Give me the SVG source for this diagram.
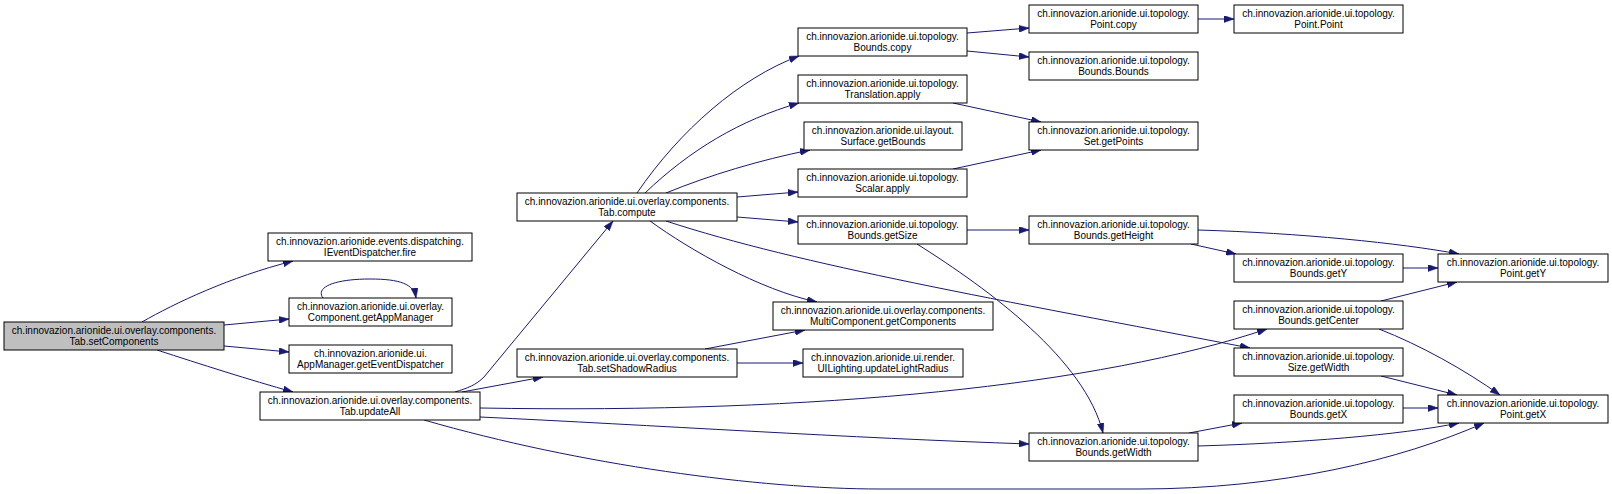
<svg xmlns="http://www.w3.org/2000/svg" width="1612" height="494" viewBox="0 0 1612 494">
<style>
.n rect{fill:#ffffff;stroke:#000000;stroke-width:1}
.n.root rect{fill:#bfbfbf;stroke:#000000}
.n text{font-family:"Liberation Sans",Arial,sans-serif;font-size:10px;fill:#000000;text-anchor:middle}
.e path{fill:none;stroke:#191970;stroke-width:1;marker-end:url(#arr)}
</style>
<defs>
<marker id="arr" markerUnits="userSpaceOnUse" markerWidth="10" markerHeight="7" refX="10" refY="3.5" orient="auto">
<path d="M0,0 L10,3.5 L0,7 Z" fill="#191970" stroke="#191970" stroke-width="0.5"/>
</marker>
</defs>
<rect width="1612" height="494" fill="#ffffff"/>
<g id="edges" class="e">
<path d="M 142,322 C 175,303 230,277 293,261"/>
<path d="M 224,325 L 289,319"/>
<path d="M 323,298 C 315,287 335,279 370,279 C 400,279 414,284 416,298"/>
<path d="M 224,346 L 289,352"/>
<path d="M 157,350 C 200,364 250,380 293,392"/>
<path d="M 455,392 C 468,388 476,385 484,377 L 613,221"/>
<path d="M 462,392 L 543,377"/>
<path d="M 480,408 C 820,414 1100,385 1267,329"/>
<path d="M 480,417 C 650,425 850,438 1029,444"/>
<path d="M 424,420 C 580,465 760,489 880,489 L 1140,489 C 1280,489 1400,460 1484,423"/>
<path d="M 637,193 C 680,130 740,78 799,56"/>
<path d="M 645,193 C 690,150 740,120 799,103"/>
<path d="M 666,193 C 710,175 760,160 810,150"/>
<path d="M 737,197 L 798,192"/>
<path d="M 737,217 L 798,222"/>
<path d="M 650,221 C 690,250 760,290 817,302"/>
<path d="M 666,221 C 800,265 1000,300 1250,348"/>
<path d="M 917,244 C 990,290 1085,360 1103,433"/>
<path d="M 967,230 L 1029,230"/>
<path d="M 967,33 L 1029,28"/>
<path d="M 967,51 L 1029,57"/>
<path d="M 953,103 L 1041,122"/>
<path d="M 953,169 L 1041,150"/>
<path d="M 705,349 L 805,330"/>
<path d="M 737,363 L 803,363"/>
<path d="M 1198,19 L 1234,19"/>
<path d="M 1198,230 C 1300,233 1400,243 1459,254"/>
<path d="M 1191,244 L 1236,254"/>
<path d="M 1403,268 L 1438,268"/>
<path d="M 1381,301 L 1457,282"/>
<path d="M 1379,329 C 1420,345 1465,370 1500,395"/>
<path d="M 1381,376 L 1457,395"/>
<path d="M 1403,408 L 1438,408"/>
<path d="M 1189,433 L 1242,423"/>
<path d="M 1198,446 C 1300,443 1400,435 1459,423"/>
</g>
<g id="setComponents" class="n root"><rect x="4" y="322" width="220" height="28"/><text x="114" y="334">ch.innovazion.arionide.ui.overlay.components.</text><text x="114" y="344.5">Tab.setComponents</text></g>
<g id="fire" class="n"><rect x="268" y="233" width="204" height="28"/><text x="370" y="245">ch.innovazion.arionide.events.dispatching.</text><text x="370" y="255.5">IEventDispatcher.fire</text></g>
<g id="getAppManager" class="n"><rect x="289" y="298" width="163" height="28"/><text x="370.5" y="310">ch.innovazion.arionide.ui.overlay.</text><text x="370.5" y="320.5">Component.getAppManager</text></g>
<g id="getEventDispatcher" class="n"><rect x="289" y="345" width="163" height="28"/><text x="370.5" y="357">ch.innovazion.arionide.ui.</text><text x="370.5" y="367.5">AppManager.getEventDispatcher</text></g>
<g id="updateAll" class="n"><rect x="260" y="392" width="220" height="28"/><text x="370" y="404">ch.innovazion.arionide.ui.overlay.components.</text><text x="370" y="414.5">Tab.updateAll</text></g>
<g id="compute" class="n"><rect x="517" y="193" width="220" height="28"/><text x="627" y="205">ch.innovazion.arionide.ui.overlay.components.</text><text x="627" y="215.5">Tab.compute</text></g>
<g id="setShadowRadius" class="n"><rect x="517" y="349" width="220" height="28"/><text x="627" y="361">ch.innovazion.arionide.ui.overlay.components.</text><text x="627" y="371.5">Tab.setShadowRadius</text></g>
<g id="boundsCopy" class="n"><rect x="798" y="28" width="169" height="28"/><text x="882.5" y="40">ch.innovazion.arionide.ui.topology.</text><text x="882.5" y="50.5">Bounds.copy</text></g>
<g id="translationApply" class="n"><rect x="798" y="75" width="169" height="28"/><text x="882.5" y="87">ch.innovazion.arionide.ui.topology.</text><text x="882.5" y="97.5">Translation.apply</text></g>
<g id="surfaceGetBounds" class="n"><rect x="804" y="122" width="158" height="28"/><text x="883" y="134">ch.innovazion.arionide.ui.layout.</text><text x="883" y="144.5">Surface.getBounds</text></g>
<g id="scalarApply" class="n"><rect x="798" y="169" width="169" height="28"/><text x="882.5" y="181">ch.innovazion.arionide.ui.topology.</text><text x="882.5" y="191.5">Scalar.apply</text></g>
<g id="boundsGetSize" class="n"><rect x="798" y="216" width="169" height="28"/><text x="882.5" y="228">ch.innovazion.arionide.ui.topology.</text><text x="882.5" y="238.5">Bounds.getSize</text></g>
<g id="multiGetComponents" class="n"><rect x="773" y="302" width="220" height="28"/><text x="883" y="314">ch.innovazion.arionide.ui.overlay.components.</text><text x="883" y="324.5">MultiComponent.getComponents</text></g>
<g id="updateLightRadius" class="n"><rect x="803" y="349" width="160" height="28"/><text x="883" y="361">ch.innovazion.arionide.ui.render.</text><text x="883" y="371.5">UILighting.updateLightRadius</text></g>
<g id="pointCopy" class="n"><rect x="1029" y="5" width="169" height="28"/><text x="1113.5" y="17">ch.innovazion.arionide.ui.topology.</text><text x="1113.5" y="27.5">Point.copy</text></g>
<g id="pointPoint" class="n"><rect x="1234" y="5" width="169" height="28"/><text x="1318.5" y="17">ch.innovazion.arionide.ui.topology.</text><text x="1318.5" y="27.5">Point.Point</text></g>
<g id="boundsBounds" class="n"><rect x="1029" y="52" width="169" height="28"/><text x="1113.5" y="64">ch.innovazion.arionide.ui.topology.</text><text x="1113.5" y="74.5">Bounds.Bounds</text></g>
<g id="setGetPoints" class="n"><rect x="1029" y="122" width="169" height="28"/><text x="1113.5" y="134">ch.innovazion.arionide.ui.topology.</text><text x="1113.5" y="144.5">Set.getPoints</text></g>
<g id="boundsGetHeight" class="n"><rect x="1029" y="216" width="169" height="28"/><text x="1113.5" y="228">ch.innovazion.arionide.ui.topology.</text><text x="1113.5" y="238.5">Bounds.getHeight</text></g>
<g id="boundsGetWidth" class="n"><rect x="1029" y="433" width="169" height="28"/><text x="1113.5" y="445">ch.innovazion.arionide.ui.topology.</text><text x="1113.5" y="455.5">Bounds.getWidth</text></g>
<g id="boundsGetY" class="n"><rect x="1234" y="254" width="169" height="28"/><text x="1318.5" y="266">ch.innovazion.arionide.ui.topology.</text><text x="1318.5" y="276.5">Bounds.getY</text></g>
<g id="boundsGetCenter" class="n"><rect x="1234" y="301" width="169" height="28"/><text x="1318.5" y="313">ch.innovazion.arionide.ui.topology.</text><text x="1318.5" y="323.5">Bounds.getCenter</text></g>
<g id="sizeGetWidth" class="n"><rect x="1234" y="348" width="169" height="28"/><text x="1318.5" y="360">ch.innovazion.arionide.ui.topology.</text><text x="1318.5" y="370.5">Size.getWidth</text></g>
<g id="boundsGetX" class="n"><rect x="1234" y="395" width="169" height="28"/><text x="1318.5" y="407">ch.innovazion.arionide.ui.topology.</text><text x="1318.5" y="417.5">Bounds.getX</text></g>
<g id="pointGetY" class="n"><rect x="1438" y="254" width="170" height="28"/><text x="1523" y="266">ch.innovazion.arionide.ui.topology.</text><text x="1523" y="276.5">Point.getY</text></g>
<g id="pointGetX" class="n"><rect x="1438" y="395" width="170" height="28"/><text x="1523" y="407">ch.innovazion.arionide.ui.topology.</text><text x="1523" y="417.5">Point.getX</text></g>
</svg>
